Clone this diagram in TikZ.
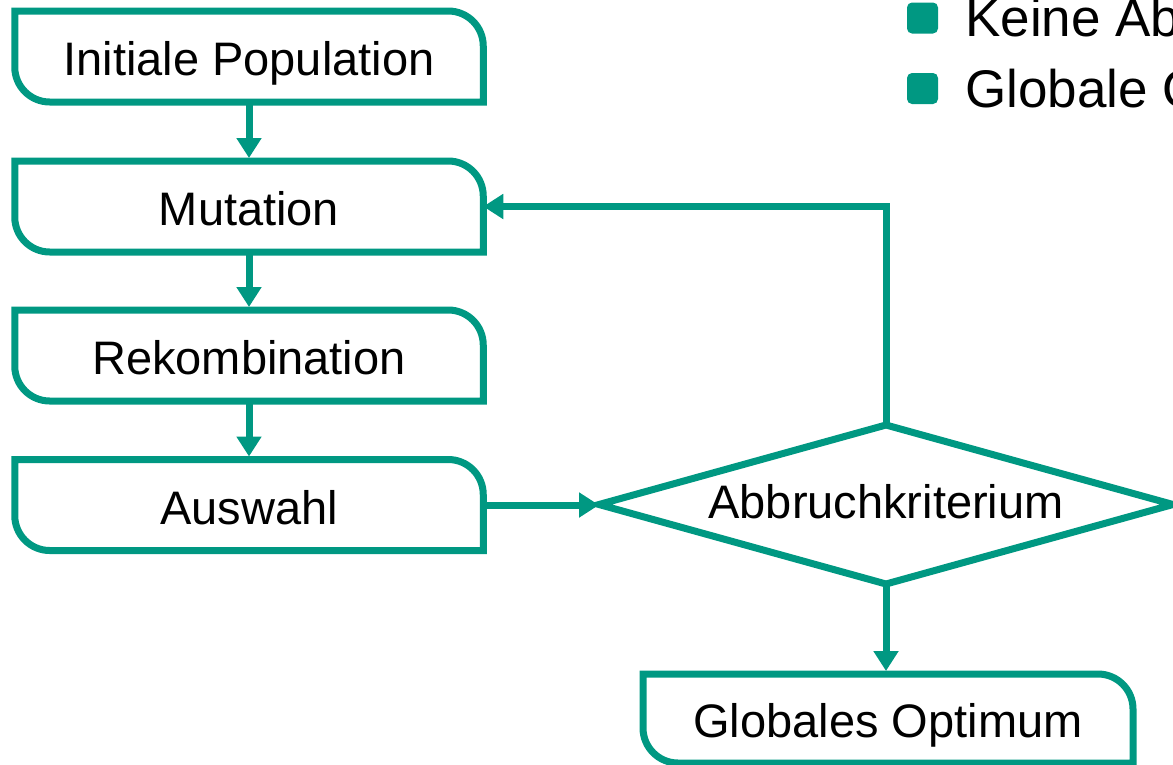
\documentclass[tikz,border=0pt]{standalone}
\usepackage{fontspec}
\setmainfont{Liberation Sans}
\usetikzlibrary{shapes.geometric,arrows.meta}
\definecolor{tealmain}{RGB}{0,152,130}
\begin{document}
\begin{tikzpicture}[x=1pt,y=-1pt,
  boxline/.style={draw=tealmain, line width=7pt},
  flowbox/.style={rectangle, inner sep=0pt, outer sep=0pt, minimum width=468.5pt, minimum height=91pt,
    text height=38pt, text depth=0pt, font=\fontsize{47pt}{56pt}\selectfont},
  decision/.style={diamond, aspect=3.61, draw=tealmain, line width=7pt, inner sep=0pt, outer sep=0pt,
    minimum width=574pt, minimum height=159pt, text height=27pt, text depth=0pt,
    font=\fontsize{47pt}{56pt}\selectfont},
  conn/.style={draw=tealmain, line width=7pt, -{Triangle[length=20pt,width=24pt]}},
  bulletsq/.style={rectangle, fill=tealmain, rounded corners=5pt, minimum size=31pt, inner sep=0pt},
  bullettext/.style={anchor=base west, inner sep=0pt, font=\fontsize{53pt}{64pt}\selectfont}]
\useasboundingbox (0,0) rectangle (1173,764);
\clip (0,0) rectangle (1173,764);

% boxes
\node[flowbox] (init) at (249,56.5) {Initiale Population};
\node[flowbox] (mut) at (249,206.5) {Mutation};
\node[flowbox] (rek) at (249,355.5) {Rekombination};
\node[flowbox] (aus) at (249,505) {Auswahl};
\node[flowbox, minimum width=490pt, minimum height=89pt] (opt) at (888,718.5) {Globales Optimum};

\foreach \n in {init,mut,rek,aus,opt}
  \draw[boxline] (\n.north west) -- ([xshift=-35pt]\n.north east)
    arc[start angle=90,end angle=0,radius=35pt] -- (\n.south east)
    -- ([xshift=35pt]\n.south west)
    arc[start angle=270,end angle=180,radius=35pt] -- cycle;

% decision
\node[decision] (dia) at (886,504.5) {Abbruchkriterium};

% connectors
\draw[conn, shorten >=3pt] (init.south) -- (mut.north);
\draw[conn, shorten >=3pt] (mut.south) -- (rek.north);
\draw[conn, shorten >=3pt] (rek.south) -- (aus.north);
\draw[conn] (aus.east) -- (aus.east -| dia.west);
\draw[conn] (dia.north) |- (mut.east);
\draw[conn, shorten >=3pt] (dia.south) -- (dia.south |- opt.north);

% bullets
\node[bulletsq] (b1) at (922.5,18) {};
\node[bulletsq] (b2) at (922.5,88.5) {};
\node[bullettext] (t1) at (965,36) {Keine Ab};
\node[bullettext] (t2) at (965,107) {Globale O};
\end{tikzpicture}
\end{document}
